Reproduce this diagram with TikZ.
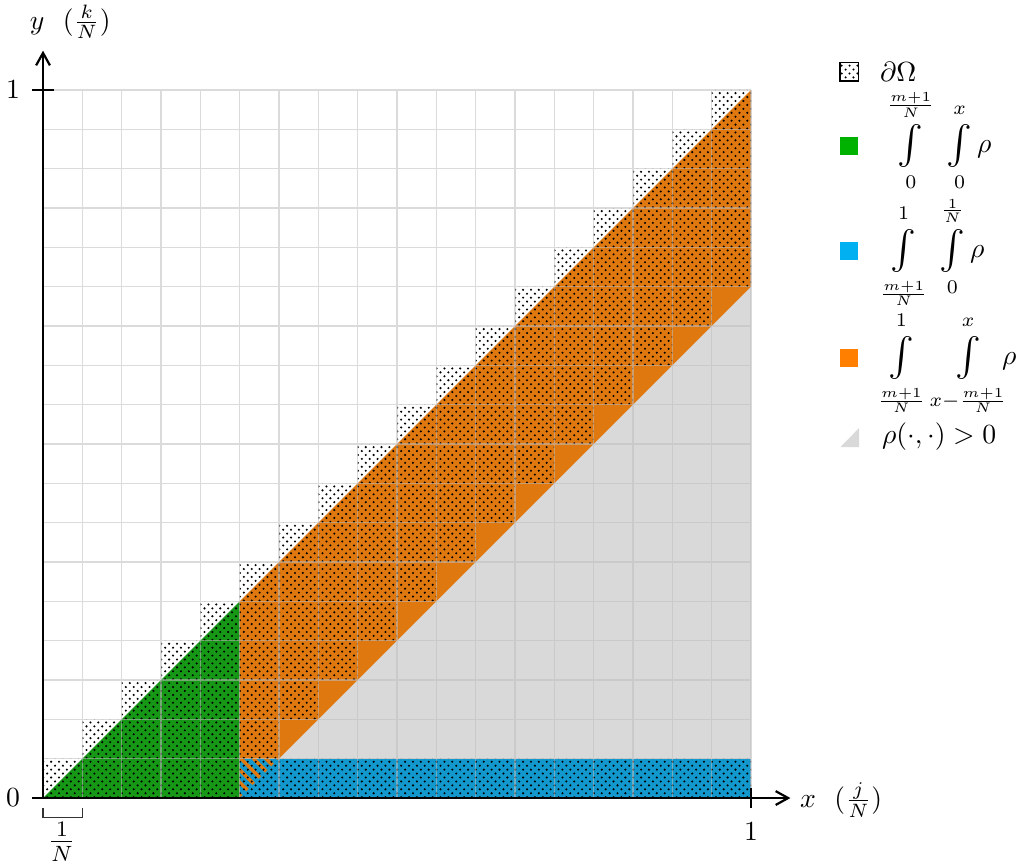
\documentclass[tikz,border=0pt]{standalone}
\usepackage{graphicx}
\usetikzlibrary{patterns,patterns.meta,arrows.meta}
\pgfdeclarepatternformonly{mydots}{\pgfqpoint{-0.5pt}{-0.5pt}}{\pgfqpoint{2pt}{2pt}}{\pgfqpoint{2.845pt}{2.845pt}}{%
 \pgfpathcircle{\pgfqpoint{0pt}{0pt}}{0.42pt}%
 \pgfpathcircle{\pgfqpoint{1.4226pt}{1.4226pt}}{0.42pt}%
 \pgfusepath{fill}}
\definecolor{pgreen}{RGB}{22,152,22}
\definecolor{pblue}{RGB}{18,152,205}
\definecolor{porange}{RGB}{224,120,16}
\definecolor{lgreen}{RGB}{0,178,0}
\definecolor{lblue}{RGB}{0,176,240}
\definecolor{lorange}{RGB}{255,128,0}
\definecolor{pgray}{RGB}{217,217,217}
\definecolor{gridc}{RGB}{190,190,190}
\newcommand{\bint}{\mathop{\vcenter{\hbox{\raisebox{0pt}[\dimexpr\height+1.5pt][\dimexpr\depth+1.5pt]{\scalebox{1.4}{$\int$}}}}}\limits}
\begin{document}
\begin{tikzpicture}[x=0.5cm,y=0.5cm,
  axisline/.style={line width=0.8pt,-{Straight Barb[length=4.5pt,width=5pt]}},
  tick/.style={line width=0.8pt},
  gridline/.style={draw=gridc,opacity=0.55,line width=0.5pt},
  icon/.style={minimum size=0.23cm,inner sep=0,outer sep=0},
  leg/.style={inner sep=0,outer sep=0}]
\useasboundingbox (-1.094,-1.778) rectangle (24.888,20.288);
% regions
\fill[pgray] (0,0) -- (18,0) -- (18,18) -- cycle;
\fill[pgreen] (0,0) -- (5,0) -- (5,5) -- cycle;
\fill[pblue] (5,0) rectangle (18,1);
\fill[porange] (5,1) -- (6,1) -- (18,13) -- (18,18) -- (5,5) -- cycle;
\fill[pattern={Lines[angle=-45,distance=3.2pt,line width=1.3pt]},pattern color=porange] (5,0) -- (6,1) -- (5,1) -- cycle;
% dotted cells
\fill[pattern=mydots] (0,0) rectangle (18,1)
  \foreach \k in {1,...,17} { (\k,\k) rectangle ({min(\k+5,18)},\k+1) };
% grid
\draw[gridline,step=0.5cm] (0,0) grid (18,18);
% axes
\coordinate (O) at (0,0);
\coordinate (xe) at (19,0);
\coordinate (ye) at (0,19);
\draw[axisline] (O) -- (xe);
\draw[axisline] (O) -- (ye);
\draw[tick] (-0.27,0) -- (0.27,0);
\draw[tick] (-0.27,18) -- (0.27,18);
\draw[tick] (18,-0.25) -- (18,0.25);
\node (l0) at (-0.76,0) {$0$};
\node (ly1) at (-0.76,18) {$1$};
\node (lx1) at (18,-0.86) {$1$};
\node[leg,anchor=west] (xl) at (19.25,-0.05) {$x\ \ (\frac{j}{N})$};
\node[leg] (yl) at (0.69,19.73) {$y\ \ (\frac{k}{N})$};
% bracket 1/N
\draw[line width=0.5pt,black!80] (0,-0.25) -- (0,-0.5) -- (1,-0.5) -- (1,-0.25);
\node[leg] (ln) at (0.48,-1.12) {\large$\frac{1}{N}$};
% legend
\node[icon,draw=black,line width=0.4pt,pattern=mydots] (i0) at (20.49,18.46) {};
\node[icon,fill=lgreen] (i1) at (20.49,16.58) {};
\node[icon,fill=lblue] (i2) at (20.49,13.91) {};
\node[icon,fill=lorange] (i3) at (20.49,11.19) {};
\fill[pgray] (20.27,8.92) -- (20.75,8.92) -- (20.75,9.41) -- cycle;
\node[leg,anchor=west] (t0) at (21.28,18.46) {$\partial\Omega$};
\node[leg,anchor=base west] (t1) at (21.46,16.40) {$\bint_0^{\frac{m+1}{N}}\;\bint_0^x \rho$};
\node[leg,anchor=base west] (t2) at (21.28,13.73) {$\bint_{\frac{m+1}{N}}^1\;\bint_0^{\frac1N} \rho$};
\node[leg,anchor=base west] (t3) at (21.22,11.01) {$\bint_{\frac{m+1}{N}}^1\bint_{x-\frac{m+1}{N}}^x\!\!\rho$};
\node[leg,anchor=west] (t4) at (21.33,9.18) {$\rho(\cdot,\cdot) > 0$};
\end{tikzpicture}
\end{document}
